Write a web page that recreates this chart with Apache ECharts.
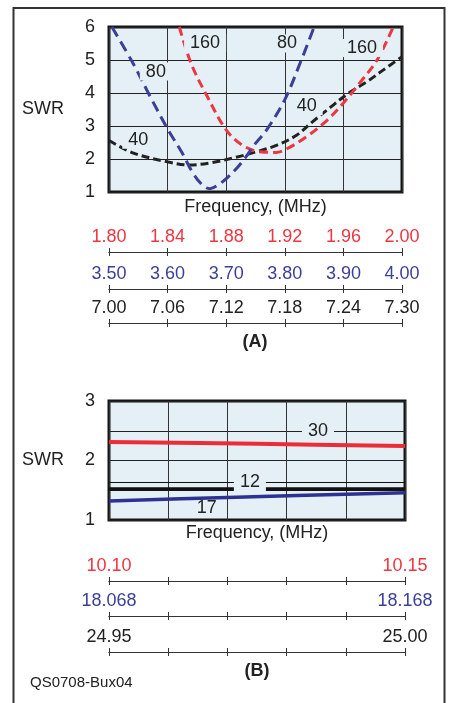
<!DOCTYPE html>
<html>
<head>
<meta charset="utf-8">
<script src="https://cdn.jsdelivr.net/npm/echarts@6/dist/echarts.min.js"></script>
<style>
  html, body { margin: 0; padding: 0; background: #fff; }
  #chart { width: 450px; height: 703px; }
</style>
</head>
<body>
<div id="chart"></div>
<script>
// (A) 160 / 80 / 40 m bands, [MHz, SWR]
const swr160 = [[1.848, 6.0], [1.856, 4.9], [1.867, 3.9], [1.880, 2.88], [1.891, 2.42], [1.903, 2.22], [1.914, 2.2], [1.921, 2.3], [1.935, 2.68], [1.949, 3.18], [1.960, 3.7], [1.971, 4.3], [1.983, 5.0], [1.994, 6.0]]
const swr80 = [[3.505, 6.0], [3.541, 4.9], [3.570, 3.9], [3.601, 2.88], [3.625, 2.18], [3.643, 1.58], [3.660, 1.2], [3.672, 1.1], [3.686, 1.21], [3.703, 1.45], [3.718, 1.72], [3.733, 2.05], [3.749, 2.45], [3.769, 2.88], [3.800, 3.8], [3.826, 4.9], [3.850, 6.0]]
const swr40 = [[7.000, 2.56], [7.025, 2.18], [7.059, 1.92], [7.083, 1.82], [7.103, 1.88], [7.127, 2.03], [7.151, 2.22], [7.172, 2.42], [7.192, 2.72], [7.208, 3.12], [7.226, 3.55], [7.245, 3.99], [7.264, 4.34], [7.281, 4.7], [7.300, 5.1]]

// (B) 30 / 17 / 12 m bands
const swr30 = [[10.10, 2.31], [10.125, 2.28], [10.15, 2.245]]
const swr17 = [[18.068, 1.32], [18.108, 1.38], [18.168, 1.46]]
const swr12 = [[24.95, 1.52], [25.00, 1.52]]

// tick labels of the frequency rulers
const ticks160 = ['1.80', '1.84', '1.88', '1.92', '1.96', '2.00']
const ticks80 = ['3.50', '3.60', '3.70', '3.80', '3.90', '4.00']
const ticks40 = ['7.00', '7.06', '7.12', '7.18', '7.24', '7.30']
const ticks30 = ['10.10', '10.11', '10.12', '10.13', '10.14', '10.15']
const ticks17 = ['18.068', '18.088', '18.108', '18.128', '18.148', '18.168']
const ticks12 = ['24.95', '24.96', '24.97', '24.98', '24.99', '25.00']

// curve annotations: [text, MHz, SWR]
const notes160 = [['160', 1.8656, 5.52], ['160', 1.9727, 5.36]]
const notes80 = [['80', 3.58, 4.65], ['80', 3.8038, 5.5]]
const notes40 = [['40', 7.03, 2.58], ['40', 7.2024, 3.6]]
const notes30 = [['30', 10.1353, 2.5]]
const notes17 = [['17', 18.101, 1.2]]
const notes12 = [['12', 24.9738, 1.64]]

const RED = '#ee3640'
const BLUE = '#3b3f98'
const INK = '#222'
const PLOT_BG = '#e4f0f5'
const FONT = '"Liberation Sans", Arial, sans-serif'

const grids = []
const xAxes = []
const yAxes = []

function addPlot(top, width, height) {
  grids.push({
    left: 109, top, width, height, show: true,
    backgroundColor: PLOT_BG, borderColor: '#151515', borderWidth: 3
  })
  return grids.length - 1
}

function addRuler(top, width, labels, color, endsOnly) {
  grids.push({ left: 109, top, width, height: 0 })
  const gi = grids.length - 1
  const line = { show: true, onZero: false, lineStyle: { color: '#333', width: 1 } }
  xAxes.push({
    type: 'category', gridIndex: gi, position: 'top', boundaryGap: false, data: labels,
    axisLine: line,
    axisTick: { show: true, length: 4, interval: 0, lineStyle: { color: '#333' } },
    axisLabel: {
      show: true, interval: 0, margin: 6, fontSize: 18, color, fontFamily: FONT,
      showMinLabel: true, showMaxLabel: true,
      formatter: (v, i) => (!endsOnly || i === 0 || i === labels.length - 1 ? v : '')
    }
  })
  xAxes.push({
    type: 'category', gridIndex: gi, position: 'bottom', boundaryGap: false, data: labels,
    axisLine: line,
    axisTick: { show: true, length: 4, interval: 0, lineStyle: { color: '#333' } },
    axisLabel: { show: false }
  })
  yAxes.push({ type: 'value', gridIndex: gi, show: false })
}

function hiddenX(gi, min, max) {
  xAxes.push({ type: 'value', gridIndex: gi, position: 'top', min, max, show: false })
  return xAxes.length - 1
}

function gridX(gi, min, max, interval, gap) {
  xAxes.push({
    type: 'value', gridIndex: gi, position: 'bottom', min, max, interval,
    axisLine: { show: false }, axisTick: { show: false }, axisLabel: { show: false },
    splitLine: { show: true, lineStyle: { color: '#333', width: 1 } },
    name: 'Frequency, (MHz)', nameLocation: 'middle', nameGap: gap,
    nameTextStyle: { fontSize: 18, color: INK, fontFamily: FONT }
  })
  return xAxes.length - 1
}

function plotY(gi, max, interval) {
  yAxes.push({
    type: 'value', gridIndex: gi, min: 1, max, interval,
    axisLine: { show: false }, axisTick: { show: false },
    axisLabel: {
      fontSize: 18, color: INK, margin: 14, fontFamily: FONT,
      formatter: v => (v % 1 === 0 ? String(v) : '')
    },
    splitLine: { show: true, lineStyle: { color: '#222', width: 1 } },
    name: 'SWR', nameLocation: 'middle', nameRotate: 0, nameGap: 45,
    nameTextStyle: { fontSize: 18, color: INK, fontFamily: FONT }
  })
  return yAxes.length - 1
}

function notes(list, knockout) {
  return {
    symbol: 'rect', symbolSize: 1, itemStyle: { color: 'transparent' }, z: 6,
    label: {
      show: true, position: 'inside', formatter: p => p.name,
      fontSize: 18, color: INK, fontFamily: FONT,
      backgroundColor: knockout ? PLOT_BG : 'transparent',
      padding: knockout ? [0, 6] : 0
    },
    data: list.map(([name, x, y]) => ({ name, coord: [x, y] }))
  }
}

function curve(name, x, y, data, color, width, type, marks) {
  return {
    name, type: 'line', xAxisIndex: x, yAxisIndex: y, data,
    smooth: 0.35, showSymbol: false, symbol: 'none', animation: false,
    lineStyle: { color, width, type, cap: 'butt' },
    itemStyle: { color },
    markPoint: marks
  }
}

// chart (A)
const gA = addPlot(27, 293, 165)
const yA = plotY(gA, 6, 1)
const x80 = gridX(gA, 3.5, 4.0, 0.1, 6)
const x160 = hiddenX(gA, 1.8, 2.0)
const x40 = hiddenX(gA, 7.0, 7.3)
addRuler(252, 293, ticks160, RED, false)
addRuler(289, 293, ticks80, BLUE, false)
addRuler(323, 293, ticks40, INK, false)

// chart (B)
const gB = addPlot(401, 296, 119)
const yB = plotY(gB, 3, 0.5)
const x30 = gridX(gB, 10.10, 10.15, 0.01, 4)
const x17 = hiddenX(gB, 18.068, 18.168)
const x12 = hiddenX(gB, 24.95, 25.00)
addRuler(581, 296, ticks30, RED, true)
addRuler(616, 296, ticks17, BLUE, true)
addRuler(652, 296, ticks12, INK, true)

const series = [
  curve('40 m', x40, yA, swr40, INK, 3, [8, 4], notes(notes40, true)),
  curve('160 m', x160, yA, swr160, RED, 3, [9, 5], notes(notes160, true)),
  curve('80 m', x80, yA, swr80, BLUE, 3, [11, 6], notes(notes80, true)),
  curve('30 m', x30, yB, swr30, '#ec2d38', 4, 'solid', notes(notes30, true)),
  curve('17 m', x17, yB, swr17, '#2e3192', 3.5, 'solid', notes(notes17, false)),
  Object.assign(curve('12 m', x12, yB, swr12, '#111', 3.5, 'solid', notes(notes12, true)), {
    markLine: {
      silent: true, symbol: ['none', 'none'], label: { show: false },
      lineStyle: { color: '#111', width: 1, type: 'solid' },
      data: [{ yAxis: notes12[0][2] }]
    }
  })
]

const chart = echarts.init(document.getElementById('chart'), null, { renderer: 'canvas' })
chart.setOption({
  animation: false,
  textStyle: { fontFamily: FONT },
  grid: grids,
  xAxis: xAxes,
  yAxis: yAxes,
  series,
  graphic: [
    {
      type: 'rect', silent: true,
      shape: { x: 13.5, y: 8, width: 431, height: 720 },
      style: { fill: 'none', stroke: '#333', lineWidth: 2 }
    },
    {
      type: 'text', silent: true, x: 255, y: 342,
      style: { text: '(A)', fill: INK, font: 'bold 18px ' + FONT, textAlign: 'center', textVerticalAlign: 'middle' }
    },
    {
      type: 'text', silent: true, x: 257, y: 671,
      style: { text: '(B)', fill: INK, font: 'bold 18px ' + FONT, textAlign: 'center', textVerticalAlign: 'middle' }
    },
    {
      type: 'text', silent: true, x: 30, y: 683,
      style: { text: 'QS0708-Bux04', fill: INK, font: '15px ' + FONT, textAlign: 'left', textVerticalAlign: 'middle' }
    }
  ]
})
</script>
</body>
</html>
